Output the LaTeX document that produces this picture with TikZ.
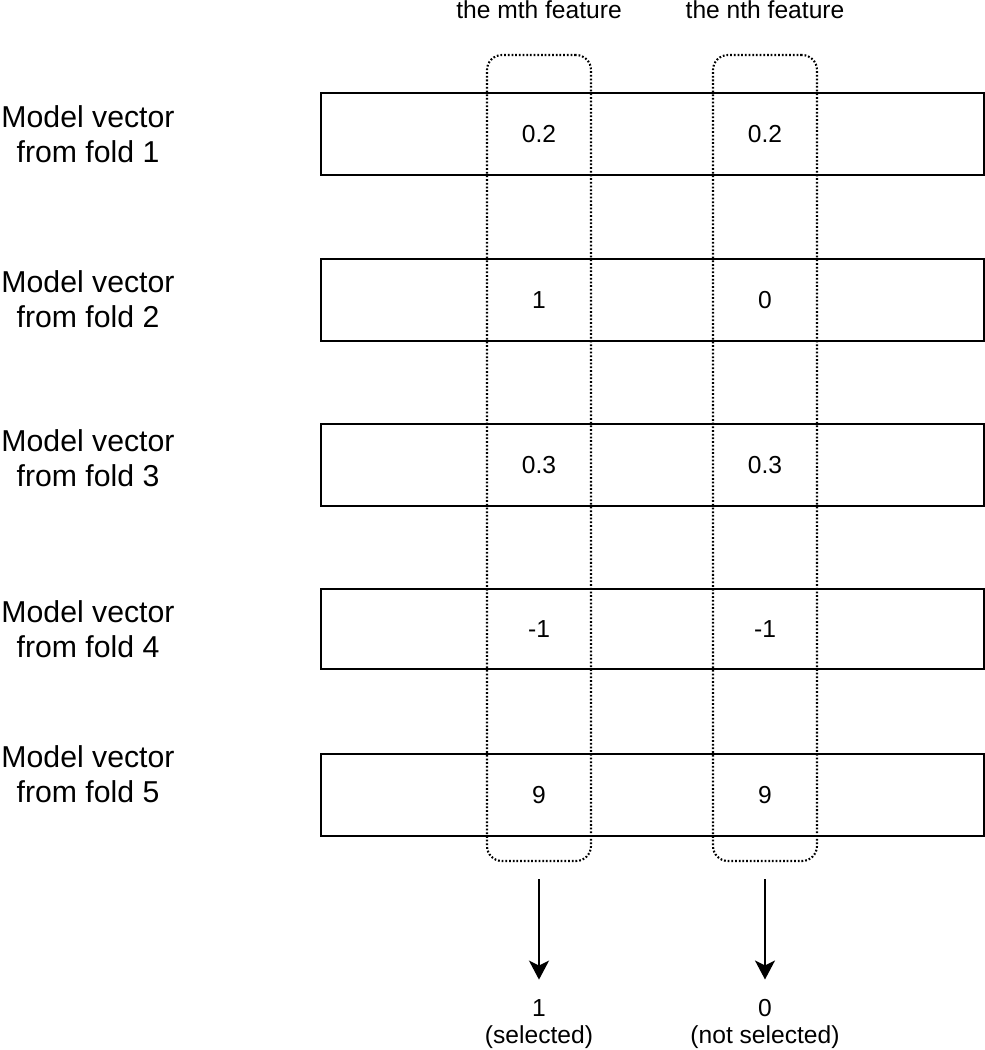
\documentclass[tikz,border=0pt]{standalone}
\usepackage{fontspec}
\setmainfont{Liberation Sans}
\usetikzlibrary{arrows.meta}

\begin{document}
\begin{tikzpicture}[x=1cm,y=1cm,
    vecbox/.style={draw,line width=0.6pt,minimum width=6.63cm,inner sep=0pt},
    featcol/.style={draw,line width=0.6pt,dash pattern=on 0.5pt off 0.55pt,rounded corners=0.15cm,minimum width=1.04cm,minimum height=8.06cm,inner sep=0pt},
    rowlabel/.style={align=center,font=\fontsize{8.6}{10}\selectfont,inner sep=0pt},
    valtext/.style={font=\fontsize{7}{7.55}\selectfont,inner sep=0pt},
    flow/.style={-{Stealth[length=1.9mm,width=2mm,inset=0.5mm]},line width=0.6pt,shorten <=1.7mm,shorten >=1.93mm}]
    \useasboundingbox (0,0) rectangle (9.85,-10.5);
    \foreach \i/\y/\h/\ly/\a/\b in {1/1.34/0.82/1.345/0.2/0.2,2/3.00/0.82/2.995/1/0,3/4.65/0.82/4.585/0.3/0.3,4/6.29/0.80/6.295/-1/-1,5/7.95/0.82/7.745/9/9}{
      \node[vecbox,minimum height=\h cm] (vec\i) at (6.525,-\y) {};
      \node[rowlabel] (lab\i) at (0.88,-\ly) {Model vector\\from fold \i};
      \node[valtext] (m\i) at (5.39,-\y) {\a};
      \node[valtext] (n\i) at (7.65,-\y) {\b};
    }
    \node[featcol] (colm) at (5.39,-4.58) {};
    \node[featcol] (coln) at (7.65,-4.58) {};
    \node[valtext,anchor=base] (headm) at (5.39,-0.183) {the mth feature};
    \node[valtext,anchor=base] (headn) at (7.65,-0.183) {the nth feature};
    \node[valtext,align=center] (outm) at (5.39,-10.239) {1\\(selected)};
    \node[valtext,align=center] (outn) at (7.65,-10.239) {0\\(not selected)};
    \draw[flow] (colm) -- (outm);
    \draw[flow] (coln) -- (outn);
\end{tikzpicture}
\end{document}
